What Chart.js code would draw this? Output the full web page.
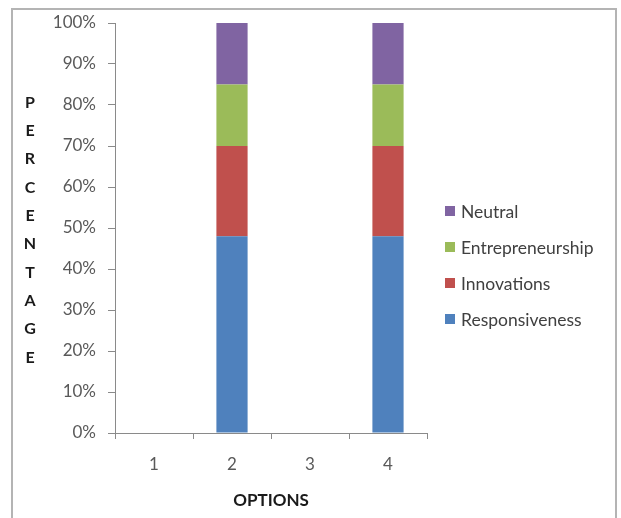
<!DOCTYPE html>
<html>
<head>
<meta charset="utf-8">
<script src="https://cdn.jsdelivr.net/npm/chart.js@4/dist/chart.umd.min.js"></script>
<style>
  html, body { margin: 0; padding: 0; background: #ffffff; }
  #frame {
    position: absolute; left: 11px; top: 8px; width: 606px; height: 520px;
    border: 2px solid #b4b4b4; border-bottom: none; box-sizing: border-box;
  }
  #c { position: absolute; left: 0; top: 0; }
</style>
</head>
<body>
<div id="frame"></div>
<canvas id="c" width="621" height="518"></canvas>
<script>
// Options on the horizontal axis
const categories = ['1', '2', '3', '4'];

// Share of answers per option (percent of each stacked column)
const responsiveness   = [null, 48, null, 48];
const innovations      = [null, 22, null, 22];
const entrepreneurship = [null, 15, null, 15];
const neutral          = [null, 15, null, 15];

const yTicks = [0, 10, 20, 30, 40, 50, 60, 70, 80, 90, 100];
const yTitle = 'PERCENTAGE';
const xTitle = 'OPTIONS';

const FONT = 'Lato, "Open Sans", sans-serif';
const AXIS_COLOR = '#8a8a8a';
const TICK_COLOR = '#595959';

// Draws the letter-stacked y title, the x title and the right-hand legend
const decorations = {
  id: 'decorations',
  afterDraw(chart) {
    const ctx = chart.ctx;
    const area = chart.chartArea;
    ctx.save();
    ctx.fillStyle = '#1a1a1a';
    ctx.font = 'bold 16px ' + FONT;
    ctx.textAlign = 'center';
    ctx.textBaseline = 'middle';
    const letters = yTitle.split('');
    const step = 28.3;
    const midY = (area.top + area.bottom) / 2 + 2;
    letters.forEach((ch, i) => {
      ctx.fillText(ch, 30, midY + (i - (letters.length - 1) / 2) * step);
    });
    ctx.font = 'bold 17px ' + FONT;
    ctx.fillText(xTitle, (area.left + area.right) / 2, 501);

    // legend, last series on top
    const ds = chart.data.datasets.slice().reverse();
    ctx.font = '17.5px ' + FONT;
    ctx.textAlign = 'left';
    const top = 211, gap = 36;
    ds.forEach((d, i) => {
      const y = top + i * gap;
      ctx.fillStyle = d.backgroundColor;
      ctx.fillRect(445, y - 5, 10, 10);
      ctx.fillStyle = '#404040';
      ctx.fillText(d.label, 461, y + 1);
    });
    ctx.restore();
  }
};

new Chart(document.getElementById('c'), {
  type: 'bar',
  data: {
    labels: categories,
    datasets: [
      { label: 'Responsiveness',   data: responsiveness,   backgroundColor: '#4F81BD' },
      { label: 'Innovations',      data: innovations,      backgroundColor: '#C0504D' },
      { label: 'Entrepreneurship', data: entrepreneurship, backgroundColor: '#9BBB59' },
      { label: 'Neutral',          data: neutral,          backgroundColor: '#8064A2' }
    ]
  },
  options: {
    responsive: false,
    animation: false,
    events: [],
    layout: { padding: { left: 0, right: 194, top: 23, bottom: 0 } },
    datasets: { bar: { barPercentage: 0.4, categoryPercentage: 1.0, borderWidth: 0 } },
    plugins: { legend: { display: false }, tooltip: { enabled: false } },
    scales: {
      x: {
        stacked: true,
        offset: true,
        grid: { offset: true, drawOnChartArea: false, drawTicks: true, tickLength: 6, color: AXIS_COLOR },
        border: { color: AXIS_COLOR, width: 1 },
        ticks: { color: TICK_COLOR, font: { family: FONT, size: 17 }, padding: 15, maxRotation: 0 },
        afterFit(scale) { scale.height = 85; }
      },
      y: {
        stacked: true,
        min: 0,
        max: 100,
        afterBuildTicks(scale) { scale.ticks = yTicks.map(v => ({ value: v })); },
        grid: { drawOnChartArea: false, drawTicks: true, tickLength: 7, color: AXIS_COLOR },
        border: { color: AXIS_COLOR, width: 1 },
        ticks: {
          color: TICK_COLOR,
          font: { family: FONT, size: 17 },
          padding: 12,
          callback: v => v + '%'
        },
        afterFit(scale) { scale.width = 115; }
      }
    }
  },
  plugins: [decorations]
});
</script>
</body>
</html>
